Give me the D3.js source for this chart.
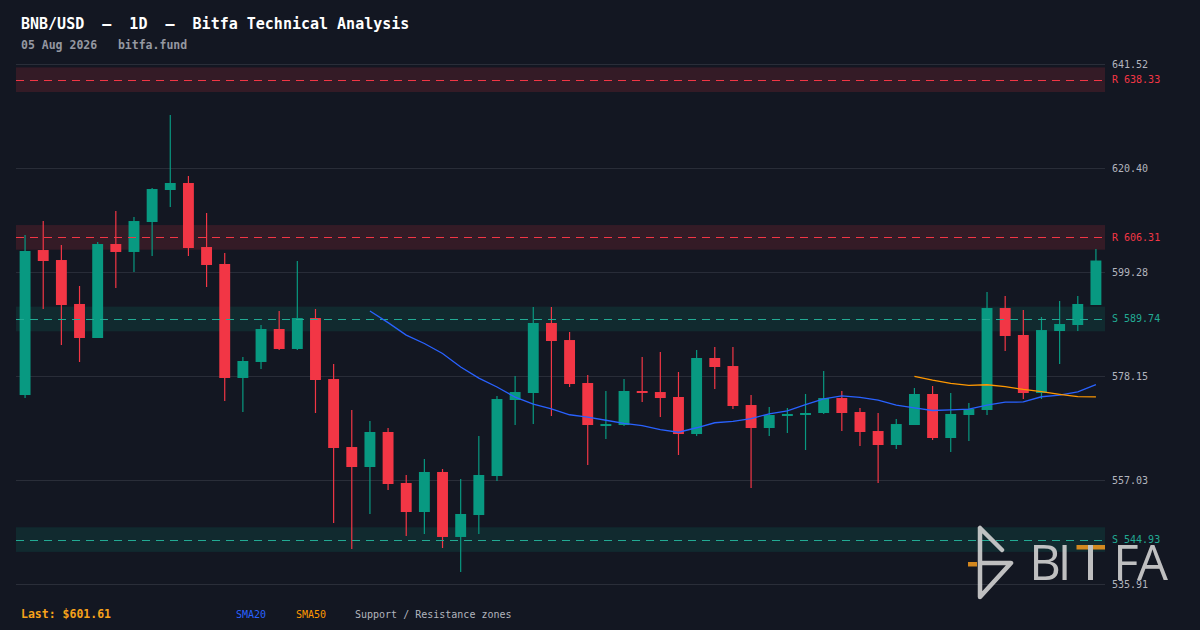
<!DOCTYPE html>
<html>
<head>
<meta charset="utf-8">
<script src="https://cdn.jsdelivr.net/npm/d3@7"></script>
<style>
  html, body { margin: 0; padding: 0; background: #131722; }
  svg { display: block; }
  text { font-family: "DejaVu Sans Mono", monospace; }
</style>
</head>
<body>
<svg id="chart" width="1200" height="630"></svg>
<script>
// daily candles, oldest first
const opens  = [574.29, 603.74, 601.71, 592.78, 585.87, 604.96, 603.34, 609.43, 615.93, 617.35,
                604.35, 600.90, 577.75, 581.00, 587.70, 583.64, 589.93, 577.54, 563.73, 559.67,
                566.78, 556.42, 550.53, 558.66, 545.46, 549.92, 557.84, 573.28, 574.70, 588.92,
                585.46, 576.73, 568.00, 568.20, 575.11, 574.90, 573.89, 566.37, 581.81, 580.18,
                572.26, 567.59, 570.03, 570.23, 570.64, 573.68, 570.84, 566.98, 564.14, 568.20,
                574.50, 565.56, 570.23, 571.25, 591.96, 586.48, 574.70, 587.29, 588.51, 592.57];
const highs  = [606.79, 609.63, 604.76, 596.43, 605.37, 611.66, 610.44, 616.33, 631.16, 618.77,
                611.26, 603.13, 582.01, 588.51, 591.35, 601.51, 591.76, 580.59, 571.25, 569.01,
                567.59, 558.05, 561.30, 559.27, 557.23, 565.97, 574.09, 578.15, 592.17, 592.17,
                587.09, 578.36, 575.11, 577.54, 582.01, 583.03, 578.97, 583.43, 584.04, 584.04,
                574.29, 571.86, 571.65, 574.50, 579.17, 575.11, 571.65, 570.64, 569.42, 575.72,
                576.12, 574.70, 572.67, 595.21, 594.40, 591.56, 590.14, 593.38, 594.40, 603.95];
const lows   = [573.68, 591.76, 584.45, 581.00, 585.87, 596.02, 599.27, 602.52, 612.48, 602.52,
                596.23, 573.08, 570.84, 579.57, 583.43, 583.43, 570.64, 548.30, 543.02, 550.13,
                555.00, 545.66, 546.06, 543.22, 538.35, 546.06, 556.83, 568.20, 568.40, 570.03,
                575.92, 560.08, 565.36, 568.00, 572.87, 569.83, 562.11, 565.97, 575.51, 571.45,
                555.41, 565.97, 566.58, 563.12, 570.44, 566.98, 563.94, 556.42, 563.33, 568.20,
                565.15, 562.72, 564.95, 570.23, 583.23, 573.48, 573.48, 580.59, 587.29, 592.57];
const closes = [603.54, 601.51, 592.57, 585.87, 604.96, 603.34, 609.63, 616.13, 617.35, 604.15,
                600.70, 577.75, 581.20, 587.70, 583.64, 589.93, 577.34, 563.53, 559.67, 566.78,
                556.22, 550.53, 558.66, 545.46, 550.13, 558.05, 573.48, 574.90, 588.92, 585.26,
                576.53, 568.20, 568.40, 575.11, 574.70, 573.68, 566.37, 581.81, 579.98, 572.06,
                567.59, 570.23, 570.44, 570.64, 573.68, 570.64, 566.78, 564.14, 568.40, 574.50,
                565.56, 570.44, 571.45, 591.96, 586.28, 574.70, 587.49, 588.71, 592.78, 601.61];

const priceTicks = [641.52, 620.40, 599.28, 578.15, 557.03, 535.91];

// support / resistance levels
const levelValues = [638.33, 606.31, 589.74, 544.93];
const levelKinds  = ['R', 'R', 'S', 'S'];
const zoneHalf = 2.5;

const smaPeriods = [20, 50];

const W = 1200, H = 630;
const plot = { left: 16, right: 1105, top: 64, bottom: 584 };
const colors = {
  bg: '#131722', grid: '#2a2e39', up: '#089981', down: '#f23645',
  sup: '#22ab94', axis: '#b2b5be', sma20: '#2962ff', sma50: '#ff9800', last: '#f7a21b'
};

let svg = d3.select('#chart');
svg.append('rect').attr('width', W).attr('height', H).attr('fill', colors.bg);

let candles = closes.map(function(c, i) {
  return { i: i, o: opens[i], h: highs[i], l: lows[i], c: c };
});

let x = d3.scaleBand()
  .domain(d3.range(candles.length))
  .range([plot.left, plot.right])
  .paddingInner(0.4).paddingOuter(0.2);

let y = d3.scaleLinear()
  .domain([priceTicks[priceTicks.length - 1], priceTicks[0]])
  .range([plot.bottom, plot.top]);

// grid + price labels
let yAxis = d3.axisRight(y).tickValues(priceTicks).tickSize(plot.right - plot.left)
  .tickFormat(d3.format('.2f'));
let gAxis = svg.append('g').attr('transform', 'translate(' + plot.left + ',0)').call(yAxis);
gAxis.select('.domain').remove();
gAxis.selectAll('.tick line').attr('stroke', colors.grid).attr('stroke-width', 1);
gAxis.selectAll('.tick text')
  .attr('x', 1112 - plot.left).attr('dy', '0.35em')
  .attr('fill', colors.axis).style('font-size', '10px')
  .style('font-family', '"DejaVu Sans Mono", monospace');

// zones
let levels = levelValues.map(function(v, i) { return { v: v, kind: levelKinds[i] }; });
svg.append('g').selectAll('rect').data(levels).join('rect')
  .attr('x', plot.left).attr('width', plot.right - plot.left)
  .attr('y', function(d) { return y(d.v + zoneHalf); })
  .attr('height', function(d) { return y(d.v - zoneHalf) - y(d.v + zoneHalf); })
  .attr('fill', function(d) { return d.kind === 'R' ? colors.down : colors.up; })
  .attr('fill-opacity', 0.15);

// candles
let gC = svg.append('g');
let bw = x.bandwidth();
gC.selectAll('line').data(candles).join('line')
  .attr('x1', function(d) { return x(d.i) + bw / 2; })
  .attr('x2', function(d) { return x(d.i) + bw / 2; })
  .attr('y1', function(d) { return y(d.h); })
  .attr('y2', function(d) { return y(d.l); })
  .attr('stroke', function(d) { return d.c >= d.o ? colors.up : colors.down; })
  .attr('stroke-width', 1.2);
gC.selectAll('rect').data(candles).join('rect')
  .attr('x', function(d) { return x(d.i); })
  .attr('width', bw)
  .attr('y', function(d) { return y(Math.max(d.o, d.c)); })
  .attr('height', function(d) { return Math.max(2, Math.abs(y(d.o) - y(d.c))); })
  .attr('fill', function(d) { return d.c >= d.o ? colors.up : colors.down; });

// level dashed lines + labels
svg.append('g').selectAll('line').data(levels).join('line')
  .attr('x1', plot.left).attr('x2', plot.right)
  .attr('y1', function(d) { return Math.round(y(d.v)) + 0.5; })
  .attr('y2', function(d) { return Math.round(y(d.v)) + 0.5; })
  .attr('stroke', function(d) { return d.kind === 'R' ? colors.down : colors.sup; })
  .attr('stroke-width', 1.2).attr('stroke-dasharray', '8,6');
svg.append('g').selectAll('text').data(levels).join('text')
  .attr('x', 1112).attr('y', function(d) { return y(d.v); }).attr('dy', '0.35em')
  .attr('fill', function(d) { return d.kind === 'R' ? colors.down : colors.sup; })
  .style('font-size', '10px')
  .text(function(d) { return d.kind + ' ' + d3.format('.2f')(d.v); });

// moving averages
function sma(period) {
  let out = [];
  for (let i = period - 1; i < closes.length; i++) {
    out.push({ i: i, v: d3.mean(closes.slice(i - period + 1, i + 1)) });
  }
  return out;
}
let line = d3.line()
  .x(function(d) { return x(d.i) + bw / 2; })
  .y(function(d) { return y(d.v); });
smaPeriods.forEach(function(p) {
  svg.append('path').datum(sma(p))
    .attr('d', line).attr('fill', 'none')
    .attr('stroke', p === 20 ? colors.sma20 : colors.sma50)
    .attr('stroke-width', 1.3);
});

// header
svg.append('text').attr('x', 21).attr('y', 29)
  .attr('fill', '#ffffff').style('font-size', '15px').style('font-weight', 'bold')
  .attr('xml:space', 'preserve')
  .text('BNB/USD  \u2013  1D  \u2013  Bitfa Technical Analysis');
svg.append('text').attr('x', 21).attr('y', 49)
  .attr('fill', '#9598a1').style('font-size', '11.5px').style('font-weight', 'bold')
  .attr('xml:space', 'preserve')
  .text('05 Aug 2026   bitfa.fund');

// footer
svg.append('text').attr('x', 21).attr('y', 618)
  .attr('fill', colors.last).style('font-size', '11.5px').style('font-weight', 'bold')
  .text('Last: $' + d3.format('.2f')(closes[closes.length - 1]));
svg.append('text').attr('x', 236).attr('y', 618)
  .attr('fill', colors.sma20).style('font-size', '10px').text('SMA20');
svg.append('text').attr('x', 296).attr('y', 618)
  .attr('fill', colors.sma50).style('font-size', '10px').text('SMA50');
svg.append('text').attr('x', 355).attr('y', 618)
  .attr('fill', colors.axis).style('font-size', '10px').text('Support / Resistance zones');

// watermark logo
let logo = svg.append('g').attr('opacity', 0.9);
let logoGrey = '#d2d2d2', logoOrange = '#e8941f';
logo.append('rect').attr('x', 968).attr('y', 562).attr('width', 9).attr('height', 4.5).attr('fill', logoOrange);
logo.append('path')
  .attr('d', 'M980,528 L980,597 L1011,563 L982,563 M980,528 L1002,550')
  .attr('fill', 'none').attr('stroke', logoGrey).attr('stroke-width', 4.5)
  .attr('stroke-linecap', 'round').attr('stroke-linejoin', 'round');
let logoLetters = [['B', 1045], ['I', 1064.5], ['F', 1126], ['A', 1152.5]];
logoLetters.forEach(function(l) {
  logo.append('text').attr('x', l[1]).attr('y', 580).attr('text-anchor', 'middle')
    .attr('fill', logoGrey).style('font-family', '"Open Sans", sans-serif')
    .style('font-size', '49px').text(l[0]);
});
logo.append('rect').attr('x', 1076.5).attr('y', 545).attr('width', 28.5).attr('height', 4.5).attr('fill', logoOrange);
logo.append('rect').attr('x', 1088).attr('y', 545).attr('width', 5).attr('height', 35).attr('fill', logoGrey);
</script>
</body>
</html>
